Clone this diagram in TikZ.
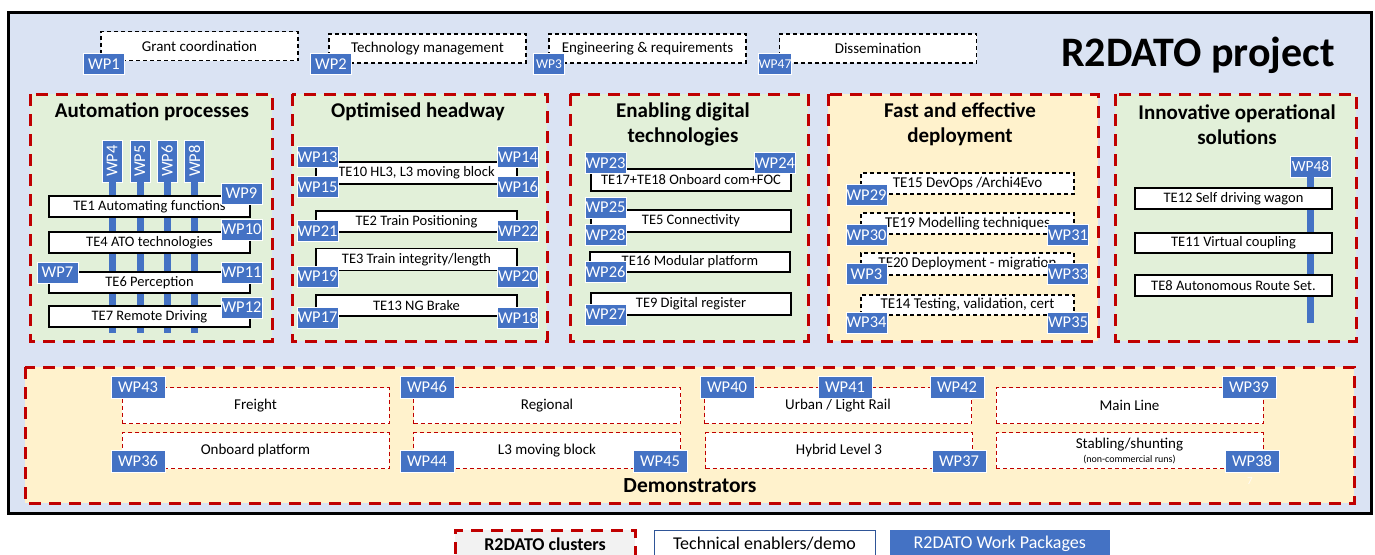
\documentclass[tikz,border=0pt]{standalone}
\usepackage{fontspec}
\setmainfont{Carlito}
\usepackage{tikz}
\usetikzlibrary{positioning}
\definecolor{frameblue}{HTML}{DAE3F3}
\definecolor{wpblue}{HTML}{4472C4}
\definecolor{clred}{HTML}{C00000}
\definecolor{clgreen}{HTML}{E2F0D9}
\definecolor{clyellow}{HTML}{FFF2CC}
\definecolor{leggray}{HTML}{F2F2F2}
\definecolor{navy}{HTML}{2F5597}
\tikzset{
  cluster/.style={draw=clred,line width=3pt,dash pattern=on 12pt off 8pt,fill=clgreen},
  cldeploy/.style={cluster,fill=clyellow},
  cltitle/.style={align=center,font=\fontsize{21}{25}\selectfont\bfseries},
  topbox/.style={rectangle,draw=black,line width=1.2pt,dash pattern=on 4pt off 3pt,fill=white,
    minimum width=197,minimum height=29,inner sep=0pt,font=\fontsize{15}{17}\selectfont},
  te/.style={rectangle,draw=black,line width=1.2pt,fill=white,minimum width=201,minimum height=21,
    inner sep=0pt,font=\fontsize{14.5}{16}\selectfont},
  tedash/.style={te,dash pattern=on 4pt off 3pt,minimum width=213,font=\fontsize{15}{16}\selectfont},
  wp/.style={rectangle,fill=wpblue,draw=white,line width=0.8pt,text=white,inner sep=0pt,
    minimum width=41,minimum height=21,font=\fontsize{16.5}{18}\selectfont},
  wpnarrow/.style={wp,minimum width=31,font=\fontsize{13.5}{15}\selectfont},
  wpv/.style={wp,minimum width=42,minimum height=20,rotate=90},
  wpdemo/.style={wp,minimum width=54,minimum height=22,font=\fontsize{16.5}{18}\selectfont},
  wpbar/.style={draw=wpblue,line width=7pt},
  demo/.style={rectangle,draw=clred,line width=1pt,dash pattern=on 4pt off 3pt,fill=white,
    minimum width=267,minimum height=36,inner sep=0pt,align=center,font=\fontsize{15}{16}\selectfont},
  legbox/.style={rectangle,minimum height=28,inner sep=0pt,font=\fontsize{18}{20}\selectfont}
}
\begin{document}
\begin{tikzpicture}[x=1pt,y=-1pt]
\useasboundingbox (0,0) rectangle (1375,554);
\draw[line width=3pt,fill=frameblue] (8,12) rectangle (1371,513);

\node[topbox] (grant) at (199.5,46) {Grant coordination};
\node[topbox] (techman) at (427.5,48.5) {Technology management};
\node[topbox] (engreq) at (647.5,48.5) {Engineering \& requirements};
\node[topbox] (dissem) at (878,48.5) {Dissemination};
\node[wp] (wp1) at (104,64) {WP1};
\node[wp] (wp2) at (331,64) {WP2};
\node[wpnarrow] (wp3a) at (549,64) {WP3};
\node[wpnarrow] (wp47) at (775,64) {WP47};
\node[font=\fontsize{42}{46}\selectfont\bfseries] (project) at (1198,55) {R2DATO project};

\draw[cluster] (30,94) rectangle (272,341);
\draw[cluster] (292,94) rectangle (547,341);
\draw[cluster] (570,94) rectangle (808,341);
\draw[cldeploy] (828,94) rectangle (1098,341);
\draw[cluster] (1115,94) rectangle (1356,341);
\draw[cldeploy] (25,367) rectangle (1354,503);

\node[cltitle] (automation) at (152,112) {Automation processes};
\coordinate (autoend) at (0,333);
\node[wpv] (wp4) at (112,161) {WP4};
\node[wpv] (wp5) at (140,161) {WP5};
\node[wpv] (wp6) at (167,161) {WP6};
\node[wpv] (wp8) at (194.5,161) {WP8};
\draw[wpbar] (wp4)--(wp4|-autoend);\draw[wpbar] (wp5)--(wp5|-autoend);\draw[wpbar] (wp6)--(wp6|-autoend);\draw[wpbar] (wp8)--(wp8|-autoend);
\node[te] (te1) at (149.5,206.5) {TE1 Automating functions};
\node[te] (te4) at (149.5,242.5) {TE4 ATO technologies};
\node[te] (te6) at (149.5,282.5) {TE6 Perception};
\node[te] (te7) at (149.5,316.5) {TE7 Remote Driving};
\node[wp] (wp9) at (241.5,193.5) {WP9};
\node[wp] (wp10) at (241.5,229.5) {WP10};
\node[wp] (wp11) at (241.5,272.5) {WP11};
\node[wp] (wp12) at (241.5,307.5) {WP12};
\node[wp] (wp7) at (57.5,272.5) {WP7};

\node[cltitle] (headway) at (418,112) {Optimised headway};
\node[te,minimum height=22] (te10) at (416.5,173) {TE10 HL3, L3 moving block};
\node[te] (te2) at (416.5,221.5) {TE2 Train Positioning};
\node[te,minimum height=22] (te3) at (416.5,259.5) {TE3 Train integrity/length};
\node[te] (te13) at (416.5,305.5) {TE13 NG Brake};
\node[wp] (wp13) at (317.5,157) {WP13};
\node[wp] (wp14) at (518,157) {WP14};
\node[wp] (wp15) at (317.5,187) {WP15};
\node[wp] (wp16) at (518,187) {WP16};
\node[wp] (wp21) at (317.5,231) {WP21};
\node[wp] (wp22) at (518,231) {WP22};
\node[wp] (wp19) at (317.5,276.5) {WP19};
\node[wp] (wp20) at (518,276.5) {WP20};
\node[wp] (wp17) at (317.5,317.5) {WP17};
\node[wp] (wp18) at (518,317.5) {WP18};

\node[cltitle] (digital) at (683,124.5) {Enabling digital\\technologies};
\node[te,minimum width=200,minimum height=22] (te17) at (691,180) {TE17+TE18 Onboard com+FOC};
\node[te,minimum width=200,minimum height=22] (te5) at (691,221) {TE5 Connectivity};
\node[te,minimum width=200,minimum height=20] (te16) at (690,262) {TE16 Modular platform};
\node[te,minimum width=200,minimum height=22] (te9) at (691,304) {TE9 Digital register};
\node[wp] (wp23) at (605.5,163) {WP23};
\node[wp] (wp24) at (775,163) {WP24};
\node[wp] (wp25) at (605.5,207.5) {WP25};
\node[wp] (wp28) at (605.5,234.5) {WP28};
\node[wp] (wp26) at (605.5,271.5) {WP26};
\node[wp] (wp27) at (605.5,314.5) {WP27};

\node[cltitle] (deployment) at (960,124.5) {Fast and effective\\deployment};
\node[tedash] (te15) at (967.5,183.5) {TE15 DevOps /Archi4Evo};
\node[tedash] (te19) at (967.5,223.5) {TE19 Modelling techniques};
\node[tedash,minimum height=22] (te20) at (967.5,264) {TE20 Deployment - migration};
\node[tedash,minimum height=20] (te14) at (967.5,305) {TE14 Testing, validation, cert};
\node[wp] (wp29) at (866.5,195) {WP29};
\node[wp] (wp30) at (866.5,235) {WP30};
\node[wp] (wp31) at (1068,235) {WP31};
\node[wp] (wp32) at (866.5,274) {WP3};
\node[wp] (wp33) at (1068,274) {WP33};
\node[wp] (wp34) at (866.5,322.5) {WP34};
\node[wp] (wp35) at (1068,322.5) {WP35};

\node[cltitle] (innovative) at (1237,124.5) {Innovative operational\\solutions};
\coordinate (innoend) at (0,323);
\node[wp,font=\fontsize{15.5}{17}\selectfont] (wp48) at (1310.5,166.5) {WP48};
\draw[wpbar] (wp48)--(wp48|-innoend);
\node[te,minimum width=197] (te12) at (1233.5,198.5) {TE12 Self driving wagon};
\node[te,minimum width=197,minimum height=20] (te11) at (1233.5,243) {TE11 Virtual coupling};
\node[te,minimum width=197] (te8) at (1233.5,285.5) {TE8 Autonomous Route Set.};

\node[demo] (freight) at (255.5,405.5) {Freight};
\node[demo] (onboard) at (255.5,450.5) {Onboard platform};
\node[demo] (regional) at (547,405.5) {Regional};
\node[demo] (l3block) at (547,450.5) {L3 moving block};
\node[demo] (urban) at (838,405.5) {Urban / Light Rail};
\node[demo] (hybrid) at (839,450.5) {Hybrid Level 3};
\node[demo] (mainline) at (1129.5,405.5) {Main Line};
\node[demo] (stabling) at (1129.5,450.5) {Stabling/shunting\\[-2pt]{\fontsize{10}{11}\selectfont(non-commercial runs)}};
\node[wpdemo] (wp43) at (138,387) {WP43};
\node[wpdemo] (wp36) at (138,461) {WP36};
\node[wpdemo] (wp46) at (427,387) {WP46};
\node[wpdemo] (wp44) at (427,461) {WP44};
\node[wpdemo] (wp45) at (660,461) {WP45};
\node[wpdemo] (wp40) at (727,387) {WP40};
\node[wpdemo] (wp41) at (845,387) {WP41};
\node[wpdemo] (wp42) at (957,387) {WP42};
\node[wpdemo] (wp37) at (959,461) {WP37};
\node[wpdemo] (wp39) at (1249,387) {WP39};
\node[wpdemo] (wp38) at (1252,461) {WP38};
\node[font=\fontsize{21.5}{23}\selectfont\bfseries] (demonstrators) at (690,486) {Demonstrators};
\node[text=white!85!clyellow,font=\fontsize{11}{12}\selectfont] (pagenum) at (1250,481) {7};

\node[legbox,draw=clred,line width=3pt,dash pattern=on 12pt off 8pt,fill=leggray,minimum width=180,
  font=\fontsize{18}{20}\selectfont\bfseries] (legcluster) at (545,544) {R2DATO clusters};
\node[legbox,draw=navy,line width=1pt,fill=white,minimum width=221,right=17pt of legcluster] (legte) {Technical enablers/demo};
\node[legbox,fill=wpblue,text=white,minimum width=220,right=14pt of legte] (legwp) {R2DATO Work Packages};
\end{tikzpicture}
\end{document}
